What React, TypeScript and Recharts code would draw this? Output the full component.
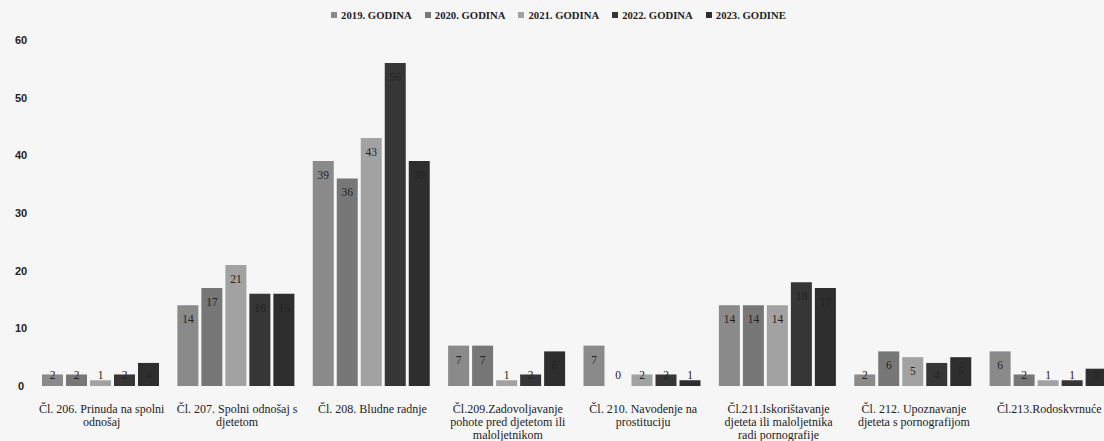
import React from 'react';
import { BarChart, Bar, XAxis, YAxis, Legend } from 'recharts';

const categoryLines: string[][] = [
  ['Čl. 206. Prinuda na spolni', 'odnošaj'],
  ['Čl. 207. Spolni odnošaj s', 'djetetom'],
  ['Čl. 208. Bludne radnje'],
  ['Čl.209.Zadovoljavanje', 'pohote pred djetetom ili', 'maloljetnikom'],
  ['Čl. 210. Navodenje na', 'prostituciju'],
  ['Čl.211.Iskorištavanje', 'djeteta ili maloljetnika', 'radi pornografije'],
  ['Čl. 212. Upoznavanje', 'djeteta s pornografijom'],
  ['Čl.213.Rodoskvrnuće'],
];

const y2019 = [2, 14, 39, 7, 7, 14, 2, 6];
const y2020 = [2, 17, 36, 7, 0, 14, 6, 2];
const y2021 = [1, 21, 43, 1, 2, 14, 5, 1];
const y2022 = [2, 16, 56, 2, 2, 18, 4, 1];
const y2023 = [4, 16, 39, 6, 1, 17, 5, 3];

const seriesNames = ['2019. GODINA', '2020. GODINA', '2021. GODINA', '2022. GODINA', '2023. GODINE'];
const seriesValues = [y2019, y2020, y2021, y2022, y2023];
const seriesColors = ['#8a8a8a', '#777777', '#a2a2a2', '#363636', '#2e2e2e'];
const yTicks = [0, 10, 20, 30, 40, 50, 60];

const categoryKeys = categoryLines.map((l) => l.join(' '));
const data = categoryKeys.map((cat, i) => {
  const row: Record<string, string | number> = { cat };
  seriesValues.forEach((vals, s) => {
    row['s' + s] = vals[i];
  });
  return row;
});

const serif = '"Liberation Serif", "DejaVu Serif", serif';

const XTick = (props: any) => {
  const { x, y, payload } = props;
  const idx = categoryKeys.indexOf(payload.value);
  const lines = idx >= 0 ? categoryLines[idx] : [String(payload.value)];
  return (
    <g transform={`translate(${x},${y})`}>
      {lines.map((ln, i) => (
        <text
          key={i}
          x={0}
          y={15 + i * 12.8}
          textAnchor="middle"
          dominantBaseline="central"
          fontFamily={serif}
          fontSize={12}
          fill="#222"
        >
          {ln}
        </text>
      ))}
    </g>
  );
};

const YTick = (props: any) => {
  const { y, payload } = props;
  return (
    <text
      x={21}
      y={y}
      textAnchor="middle"
      dominantBaseline="central"
      fontFamily='"Liberation Sans", Arial, sans-serif'
      fontWeight="bold"
      fontSize={11}
      fill="#222"
    >
      {payload.value}
    </text>
  );
};

const BarLabel = (props: any) => {
  const { x, y, width, height, value } = props;
  if (x == null || y == null) return null;
  const h = Number(height) || 0;
  const base = y + h;
  const cy = Math.min(y + 14, base - 11);
  return (
    <text
      x={x + width / 2}
      y={cy}
      textAnchor="middle"
      dominantBaseline="central"
      fontFamily={serif}
      fontSize={11.5}
      fill="#222"
    >
      {String(value)}
    </text>
  );
};

const zeroMin = (value: any) => (value === 0 ? 0.01 : 0);

const LegendContent = () => (
  <div
    style={{
      display: 'flex',
      justifyContent: 'center',
      alignItems: 'center',
      fontFamily: serif,
      fontWeight: 'bold',
      fontSize: 10.7,
      color: '#222',
    }}
  >
    {seriesNames.map((n, i) => (
      <div key={n} style={{ display: 'flex', alignItems: 'center', marginRight: i < seriesNames.length - 1 ? 13 : 0 }}>
        <span style={{ width: 6, height: 6, background: seriesColors[i], marginRight: 4, display: 'inline-block' }} />
        <span>{n}</span>
      </div>
    ))}
  </div>
);

export default function App() {
  return (
    <div
      style={{
        position: 'absolute',
        left: 0,
        top: 0,
        width: 1104,
        height: 441,
        overflow: 'hidden',
        background: '#f6f6f6',
      }}
    >
      <BarChart
        width={1117}
        height={441}
        data={data}
        margin={{ top: 16, right: 0, bottom: 0, left: 0 }}
        barCategoryGap={8}
        barGap={3}
      >
        <Legend
          verticalAlign="top"
          align="center"
          height={24}
          content={<LegendContent />}
          wrapperStyle={{ top: 9 }}
        />
        <XAxis
          dataKey="cat"
          axisLine={false}
          tickLine={false}
          height={55}
          interval={0}
          tick={<XTick />}
        />
        <YAxis
          width={34}
          domain={[0, 60]}
          ticks={yTicks}
          axisLine={false}
          tickLine={false}
          tick={<YTick />}
        />
        {seriesNames.map((n, i) => (
          <Bar
            key={n}
            dataKey={'s' + i}
            name={n}
            fill={seriesColors[i]}
            isAnimationActive={false}
            minPointSize={zeroMin}
            label={<BarLabel />}
          />
        ))}
      </BarChart>
    </div>
  );
}
